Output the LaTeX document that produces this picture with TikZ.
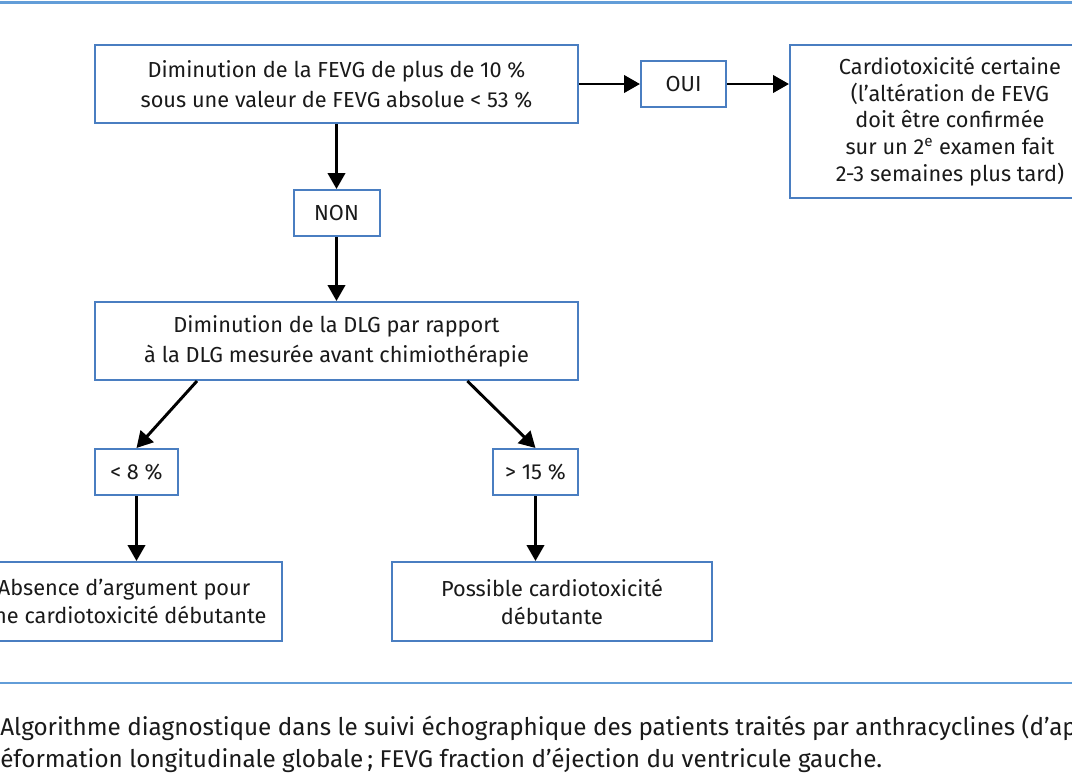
\documentclass[tikz,border=0pt]{standalone}
\usepackage{fontspec}
\setmainfont{Fira Sans}
\usetikzlibrary{arrows.meta}
\definecolor{boxblue}{RGB}{74,126,193}
\definecolor{ruleblue}{RGB}{98,157,216}
\definecolor{inkblack}{RGB}{26,26,26}
\tikzset{
  boite/.style={draw=boxblue, line width=1.5pt, align=center, inner sep=0pt, text=inkblack, font=\fontsize{16.3}{22.5}\selectfont},
  fleche/.style={line width=2.2pt, -{Triangle[length=12pt,width=13pt]}},
  legende/.style={anchor=base west, inner sep=0pt, text=inkblack, font=\fontsize{18.2}{24}\selectfont},
}
\begin{document}
\begin{tikzpicture}[x=0.75pt,y=0.75pt,yscale=-1,xscale=1]
\useasboundingbox (0,0) rectangle (1072,772);
\fill[white] (0,0) rectangle (1072,772);
\clip (0,0) rectangle (1072,772);

%Straight Lines
\draw [ruleblue, line width=2.5pt] (0,2.5) -- (1072,2.5) ;
\draw [ruleblue, line width=2.2pt] (0,683) -- (1072,683) ;

% Text Node
\node [boite, minimum width=362.25pt, minimum height=58.5pt] (fevg) at (336.5,84) {Diminution de la FEVG de plus de 10 \%\\sous une valeur de FEVG absolue < 53 \%};
% Text Node
\node [boite, minimum width=63.75pt, minimum height=34.5pt] (oui) at (683.5,84) {OUI};
% Text Node
\node [boite, minimum width=240pt, minimum height=114.75pt, font=\fontsize{16.3}{20}\selectfont] (certaine) at (950,121.5) {Cardiotoxicité certaine\\(l’altération de FEVG\\doit être confirmée\\sur un 2\textsuperscript{e} examen fait\\2-3 semaines plus tard)};
% Text Node
\node [boite, minimum width=64.5pt, minimum height=34.5pt] (non) at (336.5,213) {NON};
% Text Node
\node [boite, minimum width=362.25pt, minimum height=58.5pt] (dlg) at (336.5,341) {Diminution de la DLG par rapport\\à la DLG mesurée avant chimiothérapie};
% Text Node
\node [boite, minimum width=62.25pt, minimum height=34.5pt] (moins) at (136.5,472) {< 8 \%};
% Text Node
\node [boite, minimum width=63.75pt, minimum height=34.5pt] (plus) at (535.5,472) {> 15 \%};
% Text Node
\node [boite, minimum width=250.5pt, minimum height=59.25pt, font=\fontsize{16.3}{21}\selectfont] (absence) at (115,601.5) {};
\node [inner sep=0pt, align=center, text=inkblack, font=\fontsize{16.3}{21}\selectfont] (absencetexte) at (124,601.5) {Absence d’argument pour\\une cardiotoxicité débutante};
% Text Node
\node [boite, minimum width=240pt, minimum height=59.25pt, font=\fontsize{16.3}{21}\selectfont] (possible) at (552,601.5) {Possible cardiotoxicité\\débutante};

%Straight Lines
\draw [fleche] (fevg.east) -- (oui.west) ;
\draw [fleche] (oui.east) -- (oui.east -| certaine.west) ;
\draw [fleche] (fevg) -- (non) ;
\draw [fleche] (non) -- (dlg) ;
\draw [fleche] (dlg.196.3) -- (moins.north) ;
\draw [fleche] (dlg.343.7) -- (plus.north) ;
\draw [fleche] (moins.south) -- (moins.south |- absence.north) ;
\draw [fleche] (plus.south) -- (plus.south |- possible.north) ;

% Text Node
\node [legende] (legende1) at (0,735) {Algorithme diagnostique dans le suivi échographique des patients traités par anthracyclines (d’ap};
% Text Node
\node [legende] (legende2) at (0,767) {éformation longitudinale globale\,; FEVG fraction d’éjection du ventricule gauche.};

\end{tikzpicture}
\end{document}
